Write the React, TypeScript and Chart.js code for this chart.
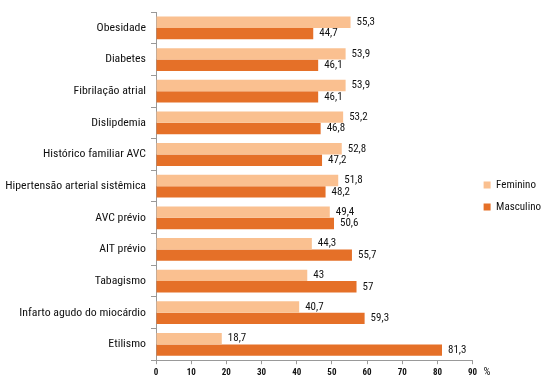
import React, { useEffect, useRef } from "react";
import { Chart, registerables } from "chart.js";

Chart.register(...registerables);

const categories = [
  "Obesidade",
  "Diabetes",
  "Fibrilação atrial",
  "Dislipdemia",
  "Histórico familiar AVC",
  "Hipertensão arterial sistêmica",
  "AVC prévio",
  "AIT prévio",
  "Tabagismo",
  "Infarto agudo do miocárdio",
  "Etilismo",
];
const feminino = [55.3, 53.9, 53.9, 53.2, 52.8, 51.8, 49.4, 44.3, 43, 40.7, 18.7];
const masculino = [44.7, 46.1, 46.1, 46.8, 47.2, 48.2, 50.6, 55.7, 57, 59.3, 81.3];
const xTicks = [0, 10, 20, 30, 40, 50, 60, 70, 80, 90];

const FONT = "'Roboto Condensed', 'Liberation Sans', sans-serif";

const valueLabels = {
  id: "valueLabels",
  afterDatasetsDraw(chart: any) {
    const ctx = chart.ctx;
    ctx.save();
    ctx.font = `11px ${FONT}`;
    ctx.fillStyle = "#111";
    ctx.textAlign = "left";
    ctx.textBaseline = "middle";
    chart.data.datasets.forEach((ds: any, di: number) => {
      const meta = chart.getDatasetMeta(di);
      meta.data.forEach((bar: any, i: number) => {
        const v = ds.data[i];
        ctx.fillText(String(v).replace(".", ","), bar.x + 6, bar.y);
      });
    });
    ctx.restore();
  },
};

const percentLabel = {
  id: "percentLabel",
  afterDraw(chart: any) {
    const ctx = chart.ctx;
    const x = chart.scales.x;
    ctx.save();
    ctx.font = `11px ${FONT}`;
    ctx.fillStyle = "#111";
    ctx.textAlign = "left";
    ctx.textBaseline = "middle";
    ctx.fillText("%", x.getPixelForValue(xTicks[xTicks.length - 1]) + 11, x.top + 12);
    ctx.restore();
  },
};

export default function App() {
  const ref = useRef<HTMLCanvasElement>(null);
  useEffect(() => {
    if (!ref.current) return;
    const chart = new Chart(ref.current, {
      type: "bar",
      data: {
        labels: categories,
        datasets: [
          {
            label: "Feminino",
            data: feminino,
            backgroundColor: "#FAC090",
            categoryPercentage: 0.72,
            barPercentage: 1,
          },
          {
            label: "Masculino",
            data: masculino,
            backgroundColor: "#E57028",
            categoryPercentage: 0.72,
            barPercentage: 1,
          },
        ],
      },
      options: {
        indexAxis: "y",
        animation: false,
        responsive: false,
        layout: { padding: { top: 11, right: 4, bottom: 6, left: 0 } },
        plugins: {
          tooltip: { enabled: false },
          legend: {
            position: "right",
            labels: {
              boxWidth: 7,
              boxHeight: 7,
              padding: 11,
              color: "#111",
              font: { family: FONT, size: 11 },
            },
          },
        },
        scales: {
          x: {
            min: 0,
            max: 90,
            afterBuildTicks(scale: any) {
              scale.ticks = xTicks.map((v) => ({ value: v }));
            },
            grid: { drawOnChartArea: false, tickLength: 4, color: "#999" },
            border: { color: "#999" },
            ticks: {
              color: "#111",
              padding: 3,
              font: { family: FONT, size: 9, weight: "bold" },
            },
          },
          y: {
            afterFit(scale: any) {
              scale.width = 156;
            },
            grid: { drawOnChartArea: false, tickLength: 5, color: "#999", offset: true },
            border: { color: "#999" },
            ticks: {
              color: "#111",
              padding: 5,
              font: { family: FONT, size: 11.8 },
            },
          },
        },
      },
      plugins: [valueLabels, percentLabel],
    });
    return () => chart.destroy();
  }, []);
  return (
    <div style={{ position: "absolute", left: 0, top: 0, width: 555, height: 387, background: "#fff" }}>
      <canvas ref={ref} width={555} height={387} />
    </div>
  );
}
